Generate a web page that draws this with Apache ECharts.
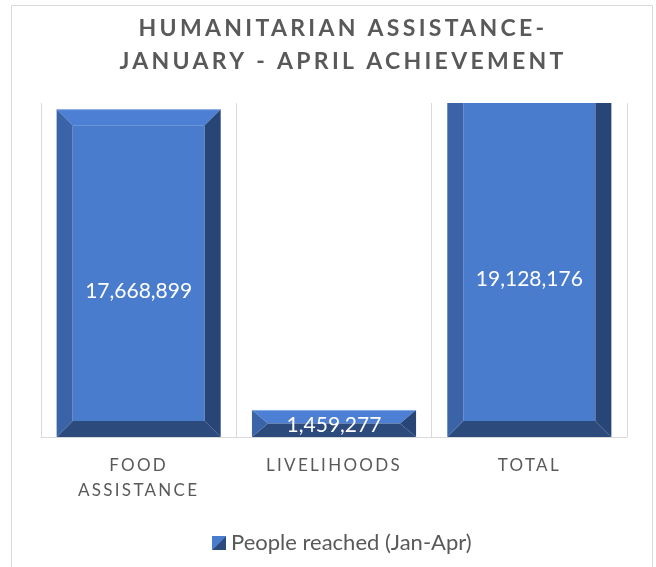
<!DOCTYPE html>
<html>
<head>
<meta charset="utf-8">
<script src="https://cdn.jsdelivr.net/npm/echarts@6/dist/echarts.min.js"></script>
<style>
html,body{margin:0;padding:0;background:#fff;}
#main{width:656px;height:567px;}
</style>
</head>
<body>
<div id="main"></div>
<script>
// ---- data ----
const categories = ['FOOD\nASSISTANCE', 'LIVELIHOODS', 'TOTAL'];
const peopleReached = [17668899, 1459277, 19128176];
const seriesName = 'People reached (Jan-Apr)';
const titleText = 'HUMANITARIAN ASSISTANCE-\nJANUARY - APRIL ACHIEVEMENT';
const axisMax = 18000000;

// letter spacing for title and category labels (canvas)
(function(){
  const proto = CanvasRenderingContext2D.prototype;
  const orig = proto.fillText;
  proto.fillText = function(t, x, y, m){
    const f = this.font || '';
    let ls = '0px';
    if (/\b23px/.test(f)) ls = '3.3px';
    else if (/\b17px/.test(f)) ls = '2.3px';
    try { this.letterSpacing = ls; } catch(e) {}
    const r = (m === undefined) ? orig.call(this, t, x, y) : orig.call(this, t, x, y, m);
    try { this.letterSpacing = '0px'; } catch(e) {}
    return r;
  };
})();

const FACE = '#4a7cce', LEFT = '#3a63a8', RIGHT = '#284577', BOTTOM = '#2d4a7c', TOP = '#4d80d4';

function renderItem(params, api) {
  const xi = api.value(0);
  const v = api.value(1);
  const base = api.coord([xi, 0]);
  const top = api.coord([xi, v]);
  const bw = api.size([1, 0])[0] * 0.84;
  const x0 = base[0] - bw / 2, x1 = base[0] + bw / 2;
  const yb = base[1], yt = top[1];
  const h = yb - yt;
  const bx = 16, by = Math.min(16, h / 2);
  const poly = (pts, color) => ({ type: 'polygon', shape: { points: pts }, style: { fill: color }, silent: true });
  const children = [
    poly([[x0 + bx, yt + by], [x1 - bx, yt + by], [x1 - bx, yb - by], [x0 + bx, yb - by]], FACE),
    poly([[x0, yt], [x1, yt], [x1 - bx, yt + by], [x0 + bx, yt + by]], TOP),
    poly([[x0, yb], [x1, yb], [x1 - bx, yb - by], [x0 + bx, yb - by]], BOTTOM),
    poly([[x0, yt], [x0 + bx, yt + by], [x0 + bx, yb - by], [x0, yb]], LEFT),
    poly([[x1, yt], [x1 - bx, yt + by], [x1 - bx, yb - by], [x1, yb]], RIGHT),
    { type: 'line', shape: { x1: x0, y1: yt + 0.5, x2: x1, y2: yt + 0.5 }, style: { stroke: '#8fb0e6', lineWidth: 1 }, silent: true },
    { type: 'text', silent: true, style: {
        text: v.toLocaleString('en-US'), x: base[0], y: yb - h * 0.445,
        align: 'center', verticalAlign: 'middle', fill: '#ffffff',
        font: '21px Lato, "Open Sans", sans-serif' } }
  ];
  return { type: 'group', children };
}

const chart = echarts.init(document.getElementById('main'), null, { renderer: 'canvas' });
chart.setOption({
  animation: false,
  backgroundColor: '#ffffff',
  title: {
    text: titleText,
    left: 338, top: 7, textAlign: 'center',
    textStyle: { fontFamily: 'Lato, "Open Sans", sans-serif', fontWeight: 'bold', fontSize: 23, color: '#595959', lineHeight: 33 }
  },
  graphic: [{
    type: 'rect', shape: { x: 11.5, y: 5.5, width: 641, height: 580 },
    style: { fill: 'none', stroke: '#d9d9d9', lineWidth: 1 }, silent: true, z: -1
  }],
  legend: {
    left: 207, top: 527, itemWidth: 14, itemHeight: 14,
    data: [{ name: seriesName, icon: 'rect' }],
    textStyle: { fontFamily: 'Lato, "Open Sans", sans-serif', fontSize: 22, color: '#595959' },
    selectedMode: false
  },
  grid: { left: 41, right: 29, top: 103, bottom: 130 },
  xAxis: {
    type: 'category', data: categories,
    axisLine: { show: true, lineStyle: { color: '#d9d9d9', width: 1 } },
    axisTick: { show: false },
    splitLine: { show: true, lineStyle: { color: '#d9d9d9', width: 1 } },
    axisLabel: { interval: 0, margin: 16, fontFamily: 'Lato, "Open Sans", sans-serif', fontSize: 17, color: '#595959', lineHeight: 25 }
  },
  yAxis: { type: 'value', min: 0, max: axisMax, show: false, splitLine: { show: false } },
  series: [{
    type: 'custom', name: seriesName, clip: true,
    renderItem,
    itemStyle: { color: { type: 'linear', x: 0, y: 0, x2: 1, y2: 1, colorStops: [
      { offset: 0, color: FACE }, { offset: 0.5, color: FACE }, { offset: 0.5, color: BOTTOM }, { offset: 1, color: BOTTOM }] } },
    encode: { x: 0, y: 1 },
    data: peopleReached.map((v, i) => [i, v])
  }]
});
</script>
</body>
</html>
